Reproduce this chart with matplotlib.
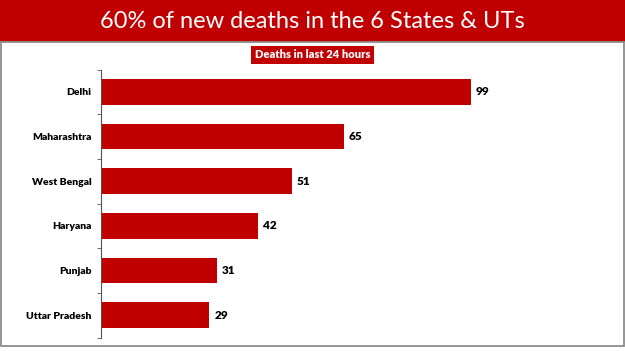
import matplotlib.pyplot as plt
from matplotlib.patches import Rectangle

states = ['Delhi', 'Maharashtra', 'West Bengal', 'Haryana', 'Punjab', 'Uttar Pradesh']
deaths = [99, 65, 51, 42, 31, 29]

red = '#C00000'
plt.rcParams['font.family'] = ['Lato', 'DejaVu Sans']

fig = plt.figure(figsize=(6.25, 3.51), dpi=100)

# banner + frame
fig.patches.append(Rectangle((0, 1 - 42 / 351), 1, 42 / 351, transform=fig.transFigure,
                             facecolor=red, edgecolor='none', zorder=0))
fig.patches.append(Rectangle((1.5 / 625, 5.5 / 351), 622.5 / 625, 303.5 / 351, transform=fig.transFigure,
                             facecolor='none', edgecolor='#8c8c8c', lw=1.3, zorder=1))
fig.text(0.5, 1 - 21 / 351, '60% of new deaths in the 6 States & UTs', color='white',
         fontsize=17, ha='center', va='center')
fig.text(0.5, 1 - 55 / 351, 'Deaths in last 24 hours', color='white', fontsize=8,
         fontweight='heavy', ha='center', va='center',
         bbox=dict(boxstyle='square,pad=0.35', facecolor=red, edgecolor='none'))

ax = fig.add_axes([101 / 625, 13.5 / 351, 486 / 625, 268 / 351])
y = list(range(len(states)))
bars = ax.barh(y, deaths, height=0.58, color=red)
ax.set_xlim(0, 130)
ax.set_ylim(len(states) - 0.5, -0.5)
ax.set_yticks(y)
ax.set_yticklabels(states, fontsize=7.5, fontweight='heavy')
ax.set_yticks([i - 0.5 for i in range(len(states) + 1)], minor=True)
ax.tick_params(axis='y', which='major', length=0, pad=7)
ax.tick_params(axis='y', which='minor', length=3, color='#555555')
ax.set_xticks([])
for s in ['top', 'right', 'bottom']:
    ax.spines[s].set_visible(False)
ax.spines['left'].set_color('#555555')

for yi, v in zip(y, deaths):
    ax.text(v + 1.3, yi, str(v), va='center', ha='left', fontsize=8.5, fontweight='heavy')

fig.savefig('out.png', dpi=100)
